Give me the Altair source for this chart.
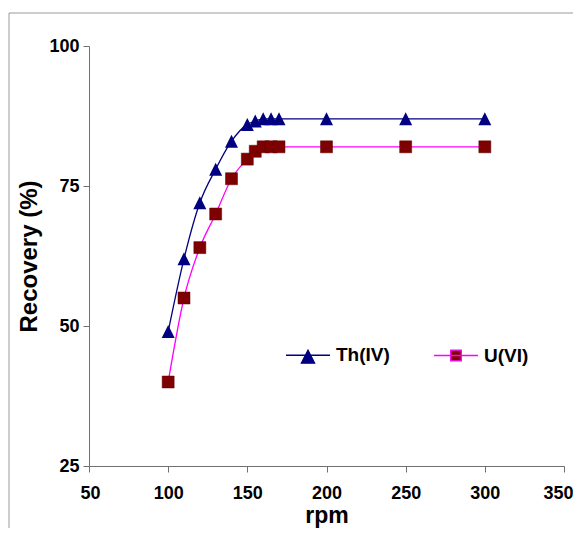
import altair as alt
import pandas as pd

# ---- data ----
rpm_th = [100, 110, 120, 130, 140, 150, 155, 160, 165, 170, 200, 250, 300]
th_recovery = [49, 62, 72, 78, 83, 86, 86.6, 87, 87, 87, 87, 87, 87]

rpm_u = [100, 110, 120, 130, 140, 150, 155, 160, 165, 170, 200, 250, 300]
u_recovery = [40, 55, 64, 70, 76.3, 79.8, 81.2, 82, 82, 82, 82, 82, 82]

series_names = ["Th(IV)", "U(VI)"]
x_ticks = [50, 100, 150, 200, 250, 300, 350]
y_ticks = [25, 50, 75, 100]

df = pd.concat([
    pd.DataFrame({"rpm": rpm_th, "rec": th_recovery, "series": series_names[0]}),
    pd.DataFrame({"rpm": rpm_u, "rec": u_recovery, "series": series_names[1]}),
], ignore_index=True)

W, H = 475, 420
FONT = "Liberation Sans"

x_enc = alt.X("rpm:Q", scale=alt.Scale(domain=[50, 350], nice=False, zero=False),
              axis=alt.Axis(values=x_ticks, title="rpm", labelFlush=True, labelFlushOffset=9,
                            titlePadding=2, labelPadding=12, titleFontSize=23))
y_enc = alt.Y("rec:Q", scale=alt.Scale(domain=[25, 100], nice=False, zero=False),
              axis=alt.Axis(values=y_ticks, title="Recovery (%)", labelFlush=False,
                            titlePadding=7, labelPadding=4))

base = alt.Chart(df)

navy = "#000080"
magenta = "#ff00ff"
maroon = "#7f0000"

line_th = base.transform_filter(alt.datum.series == series_names[0]).mark_line(
    interpolate="monotone", strokeWidth=1.3, color=navy).encode(x=x_enc, y=y_enc)
line_u = base.transform_filter(alt.datum.series == series_names[1]).mark_line(
    interpolate="monotone", strokeWidth=1.3, color=magenta).encode(x=x_enc, y=y_enc)

pts_th = base.transform_filter(alt.datum.series == series_names[0]).mark_point(
    filled=True, size=169, shape="M0,-1L-1,1L1,1Z", color=navy, opacity=1).encode(x=x_enc, y=y_enc)
pts_u = base.transform_filter(alt.datum.series == series_names[1]).mark_point(
    filled=True, size=144, shape="square", fill=maroon, stroke="#5a0000",
    strokeWidth=0.5, opacity=1).encode(x=x_enc, y=y_enc)

legend_shapes = [
    "M-1,0H1M-0.3,0.36L0,-0.23L0.3,0.36Z",
    "M-1,0H1M-0.24,-0.24H0.24V0.24H-0.24Z",
]
legend = alt.Legend(
    title=None, orient="none", legendX=196, legendY=286, direction="horizontal",
    symbolSize=1936, symbolStrokeWidth=1.3, symbolOpacity=1,
    labelFont=FONT, labelFontWeight="bold", labelFontSize=19, labelColor="black",
    labelOffset=5, columnPadding=41, padding=0,
)
legend_layer = base.mark_point(filled=True).encode(
    x=x_enc, y=y_enc,
    shape=alt.Shape("series:N", scale=alt.Scale(domain=series_names, range=legend_shapes), legend=legend),
    fill=alt.Fill("series:N", scale=alt.Scale(domain=series_names, range=[navy, maroon]), legend=legend),
    stroke=alt.Stroke("series:N", scale=alt.Scale(domain=series_names, range=[navy, magenta]), legend=legend),
    opacity=alt.value(0),
)

frame = alt.Chart(pd.DataFrame({"a": [0]})).mark_rect(
    fill="transparent", stroke="#9a9a9a", strokeWidth=1).encode(
    x=alt.value(-80), y=alt.value(-33), x2=alt.value(W + 200), y2=alt.value(H + 200))

chart = alt.layer(frame, line_th, line_u, pts_th, pts_u, legend_layer).properties(
    width=W, height=H,
    autosize=alt.AutoSizeParams(type="none"),
    padding={"left": 81, "top": 38, "right": 9, "bottom": 62},
    background="white",
).configure_view(stroke=None).configure_axis(
    grid=False, domainColor="#707070", tickColor="#707070", tickSize=6,
    labelFont=FONT, labelFontWeight="bold", labelFontSize=18, labelColor="black",
    titleFont=FONT, titleFontWeight="bold", titleFontSize=24, titleColor="black",
)

chart.save("out.html", embed_options={"renderer": "svg", "actions": False})
